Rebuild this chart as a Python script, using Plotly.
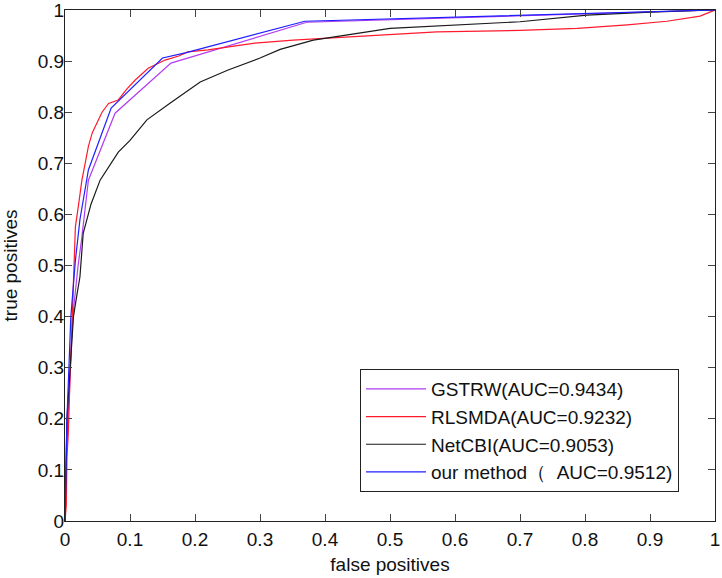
import plotly.graph_objects as go

# ---- data ----
gstrw_fpr = [0, 0.001, 0.004, 0.007, 0.010, 0.013, 0.020, 0.026, 0.036, 0.077, 0.163, 0.372, 1.0]
gstrw_tpr = [0, 0.08, 0.18, 0.28, 0.35, 0.413, 0.498, 0.556, 0.667, 0.798, 0.896, 0.976, 1.0]

rlsmda_fpr = [0, 0.002, 0.003, 0.005, 0.007, 0.009, 0.011, 0.013, 0.016, 0.021, 0.026, 0.031,
              0.036, 0.042, 0.049, 0.057, 0.067, 0.082, 0.095, 0.108, 0.128, 0.154, 0.175,
              0.189, 0.220, 0.257, 0.292, 0.351, 0.428, 0.500, 0.572, 0.700, 0.788, 0.865,
              0.926, 0.977, 1.0]
rlsmda_tpr = [0, 0.03, 0.125, 0.17, 0.25, 0.33, 0.40, 0.472, 0.576, 0.62, 0.667, 0.70,
              0.733, 0.76, 0.778, 0.80, 0.817, 0.824, 0.845, 0.863, 0.886, 0.902, 0.91,
              0.918, 0.922, 0.928, 0.935, 0.941, 0.947, 0.952, 0.957, 0.960, 0.964, 0.971,
              0.978, 0.988, 1.0]

netcbi_fpr = [0, 0.001, 0.003, 0.008, 0.013, 0.018, 0.023, 0.028, 0.040, 0.054, 0.082, 0.100,
              0.126, 0.162, 0.208, 0.250, 0.300, 0.331, 0.382, 0.500, 0.608, 0.700, 0.803,
              0.900, 1.0]
netcbi_tpr = [0, 0.10, 0.20, 0.30, 0.40, 0.44, 0.478, 0.563, 0.62, 0.667, 0.722, 0.745,
              0.785, 0.818, 0.859, 0.882, 0.906, 0.923, 0.941, 0.964, 0.971, 0.977, 0.990,
              0.996, 1.0]

ours_fpr = [0, 0.001, 0.003, 0.006, 0.009, 0.016, 0.023, 0.036, 0.071, 0.150, 0.185, 0.369, 1.0]
ours_tpr = [0, 0.10, 0.20, 0.30, 0.40, 0.51, 0.59, 0.687, 0.808, 0.906, 0.916, 0.978, 1.0]

series_names = ["GSTRW(AUC=0.9434)", "RLSMDA(AUC=0.9232)", "NetCBI(AUC=0.9053)",
                "our method\uff08  AUC=0.9512)"]
series_colors = ["#b23cf0", "#ff1a2e", "#1a1a1a", "#1f1fff"]

tick_vals = [0, 0.1, 0.2, 0.3, 0.4, 0.5, 0.6, 0.7, 0.8, 0.9, 1]
tick_text = ["0", "0.1", "0.2", "0.3", "0.4", "0.5", "0.6", "0.7", "0.8", "0.9", "1"]

series = [(gstrw_fpr, gstrw_tpr), (rlsmda_fpr, rlsmda_tpr),
          (netcbi_fpr, netcbi_tpr), (ours_fpr, ours_tpr)]

FONT = "Liberation Sans, Arial"

fig = go.Figure()
for (xs, ys), name, col in zip(series, series_names, series_colors):
    fig.add_trace(go.Scatter(x=xs, y=ys, mode="lines", name=name, legendgroup=name,
                             line=dict(color=col, width=1.2)))

axis_common = dict(
    range=[0, 1], tickmode="array", tickvals=tick_vals, ticktext=tick_text,
    ticks="inside", ticklen=7, tickcolor="#444", tickwidth=1,
    showline=True, linecolor="#222", linewidth=1, mirror="ticks",
    showgrid=False, zeroline=False, automargin=False,
    ticklabeloverflow="allow",
    tickfont=dict(family=FONT, size=19, color="#111"),
)

fig.update_xaxes(**axis_common, title=dict(text="false positives",
                 font=dict(family=FONT, size=19, color="#111"), standoff=8),
                 ticklabelstandoff=1)
fig.update_yaxes(**axis_common, title=dict(text="true positives",
                 font=dict(family=FONT, size=19, color="#111"), standoff=21),
                 ticklabelstandoff=-4)

fig.update_layout(
    width=722, height=578,
    margin=dict(l=65, r=7, t=10, b=57),
    paper_bgcolor="white", plot_bgcolor="white",
    showlegend=True,
    legend=dict(x=0.4538, y=0.2975, xanchor="left", yanchor="top",
                bgcolor="white", bordercolor="#222", borderwidth=1,
                font=dict(family=FONT, size=19, color="#111"),
                itemwidth=60, tracegroupgap=3, traceorder="normal"),
)

fig.write_html("out.html", config={"displayModeBar": False},
               post_script="document.body.style.margin='0';document.body.style.overflow='hidden';")
